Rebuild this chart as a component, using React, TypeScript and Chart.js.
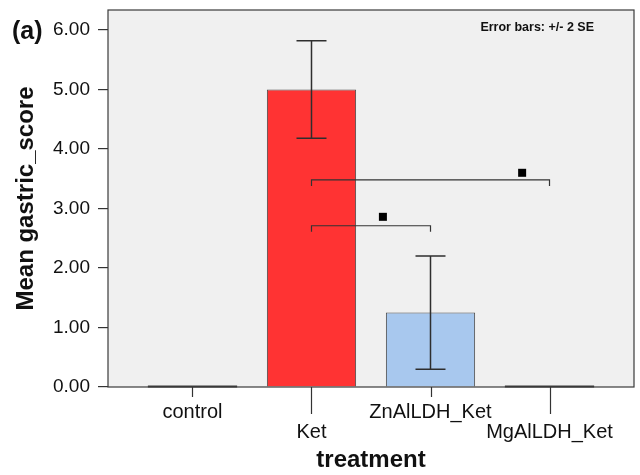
import React, { useEffect, useRef } from "react";
import { Chart, registerables } from "chart.js";

Chart.register(...registerables);

// Groups on the x axis
const categories = ["control", "Ket", "ZnAlLDH_Ket", "MgAlLDH_Ket"];
// Mean gastric score per group
const meanScore = [0, 5.0, 1.25, 0];
// Error bar limits (+/- 2 SE); null where no bar is drawn
const errLow = [null, 4.18, 0.3, null];
const errHigh = [null, 5.82, 2.2, null];
// Y tick values
const yTicks = [0, 1, 2, 3, 4, 5, 6];
// Significance brackets: from group, to group, bracket level, marker position
const sigFrom = [1, 1];
const sigTo = [3, 2];
const sigLevel = [3.48, 2.71];
const sigMarkX = [2.77, 1.6];
const sigMarkY = [3.6, 2.86];

const barColors = ["#a8c8ee", "#ff3333", "#a8c8ee", "#a8c8ee"];
const FONT = "'Liberation Sans', Arial, Helvetica, sans-serif";
const INK = "#111111";

const decorPlugin = {
  id: "decor",
  beforeDraw(chart: any) {
    const { ctx, chartArea: a } = chart;
    ctx.save();
    ctx.fillStyle = "#ffffff";
    ctx.fillRect(0, 0, chart.width, chart.height);
    ctx.fillStyle = "#f0f0f0";
    ctx.fillRect(a.left, a.top, a.right - a.left, a.bottom - a.top);
    ctx.restore();
  },
  afterDatasetsDraw(chart: any) {
    const { ctx, chartArea: a } = chart;
    const xs = chart.scales.x;
    const ys = chart.scales.y;
    const meta = chart.getDatasetMeta(0);
    ctx.save();

    // zero-height bars show as a line on the baseline
    meta.data.forEach((el: any, i: number) => {
      if (meanScore[i] === 0) {
        const y0 = ys.getPixelForValue(0);
        ctx.strokeStyle = "#3a3a3a";
        ctx.lineWidth = 2;
        ctx.beginPath();
        ctx.moveTo(el.x - el.width / 2, y0 - 0.5);
        ctx.lineTo(el.x + el.width / 2, y0 - 0.5);
        ctx.stroke();
      }
    });

    // error bars
    ctx.strokeStyle = "#2e2e2e";
    ctx.lineWidth = 1.5;
    errLow.forEach((lo, i) => {
      const hi = errHigh[i];
      if (lo == null || hi == null) return;
      const x = xs.getPixelForValue(i);
      const yl = ys.getPixelForValue(lo);
      const yh = ys.getPixelForValue(hi);
      ctx.beginPath();
      ctx.moveTo(x, yl);
      ctx.lineTo(x, yh);
      ctx.moveTo(x - 15, yh);
      ctx.lineTo(x + 15, yh);
      ctx.moveTo(x - 15, yl);
      ctx.lineTo(x + 15, yl);
      ctx.stroke();
    });

    // significance brackets and markers
    ctx.lineWidth = 1.2;
    ctx.strokeStyle = "#333333";
    sigFrom.forEach((f, i) => {
      const x1 = xs.getPixelForValue(f);
      const x2 = xs.getPixelForValue(sigTo[i]);
      const y = ys.getPixelForValue(sigLevel[i]);
      ctx.beginPath();
      ctx.moveTo(x1, y + 6);
      ctx.lineTo(x1, y);
      ctx.lineTo(x2, y);
      ctx.lineTo(x2, y + 6);
      ctx.stroke();
      const mx = xs.getPixelForValue(sigMarkX[i]);
      const my = ys.getPixelForValue(sigMarkY[i]);
      ctx.fillStyle = "#000000";
      ctx.fillRect(mx - 4, my - 4, 8, 8);
    });

    // plot frame
    ctx.strokeStyle = "#3a3a3a";
    ctx.lineWidth = 1.2;
    ctx.strokeRect(a.left, a.top, a.right - a.left, a.bottom - a.top);

    // category tick marks, staggered like the labels
    ctx.strokeStyle = "#333333";
    ctx.lineWidth = 1.2;
    categories.forEach((_, i) => {
      const x = Math.round(xs.getPixelForValue(i)) + 0.5;
      const len = i % 2 === 0 ? 10 : 27;
      ctx.beginPath();
      ctx.moveTo(x, a.bottom);
      ctx.lineTo(x, a.bottom + len);
      ctx.stroke();
    });

    // panel letter and error bar note
    ctx.fillStyle = INK;
    ctx.textBaseline = "alphabetic";
    ctx.textAlign = "left";
    ctx.font = `bold 25px ${FONT}`;
    ctx.fillText("(a)", 12, 39);
    ctx.font = `bold 12.5px ${FONT}`;
    ctx.textAlign = "right";
    ctx.fillText("Error bars: +/- 2 SE", 594, 31);
    ctx.restore();
  },
};

export default function App() {
  const canvasRef = useRef<HTMLCanvasElement | null>(null);

  useEffect(() => {
    if (!canvasRef.current) return;
    const chart = new Chart(canvasRef.current, {
      type: "bar",
      data: {
        datasets: [
          {
            data: meanScore.map((v, i) => ({ x: i, y: v })),
            backgroundColor: barColors,
            borderColor: "#4a4a4a",
            borderWidth: 1,
            borderSkipped: "start",
            categoryPercentage: 1,
            barPercentage: 0.75,
          },
        ],
      },
      plugins: [decorPlugin],
      options: {
        animation: false,
        responsive: false,
        layout: { padding: { top: 0, right: 6, left: 0, bottom: 0 } },
        plugins: {
          legend: { display: false },
          tooltip: { enabled: false },
        },
        scales: {
          x: {
            type: "linear",
            min: -0.71,
            max: 3.71,
            offset: false,
            afterBuildTicks: (scale: any) => {
              scale.ticks = categories.map((_, i) => ({ value: i }));
            },
            afterFit: (scale: any) => {
              scale.height = 88;
              scale.paddingLeft = 0;
              scale.paddingRight = 0;
            },
            grid: { display: false, drawTicks: false },
            border: { display: false },
            ticks: {
              autoSkip: false,
              maxRotation: 0,
              padding: 15,
              color: INK,
              font: { family: FONT, size: 20, lineHeight: "20px" },
              callback: (_v: any, i: number) =>
                i % 2 === 0 ? [categories[i]] : ["", categories[i]],
            },
            title: {
              display: true,
              text: "treatment",
              color: INK,
              font: { family: FONT, size: 24, weight: "bold", lineHeight: 1.2 },
              padding: { top: 1, bottom: 0 },
            },
          },
          y: {
            min: 0,
            max: 6.336,
            afterBuildTicks: (scale: any) => {
              scale.ticks = yTicks.map((v) => ({ value: v }));
            },
            afterFit: (scale: any) => {
              scale.width = 108;
              scale.paddingTop = 10;
              scale.paddingBottom = 0;
            },
            grid: {
              display: true,
              drawOnChartArea: false,
              drawTicks: true,
              tickLength: 10,
              color: "#333333",
              lineWidth: 1.2,
            },
            border: { display: false },
            ticks: {
              padding: 8,
              color: INK,
              font: { family: FONT, size: 19, lineHeight: "20px" },
              callback: (v: any) => Number(v).toFixed(2),
            },
            title: {
              display: true,
              text: "Mean gastric_score",
              color: INK,
              font: { family: FONT, size: 24, weight: "bold", lineHeight: 1.2 },
              padding: { top: 12, bottom: 0 },
            },
          },
        },
      },
    } as any);
    return () => chart.destroy();
  }, []);

  return (
    <div style={{ position: "absolute", left: 0, top: 0, width: 640, height: 475 }}>
      <canvas ref={canvasRef} width={640} height={475} style={{ display: "block" }} />
    </div>
  );
}
